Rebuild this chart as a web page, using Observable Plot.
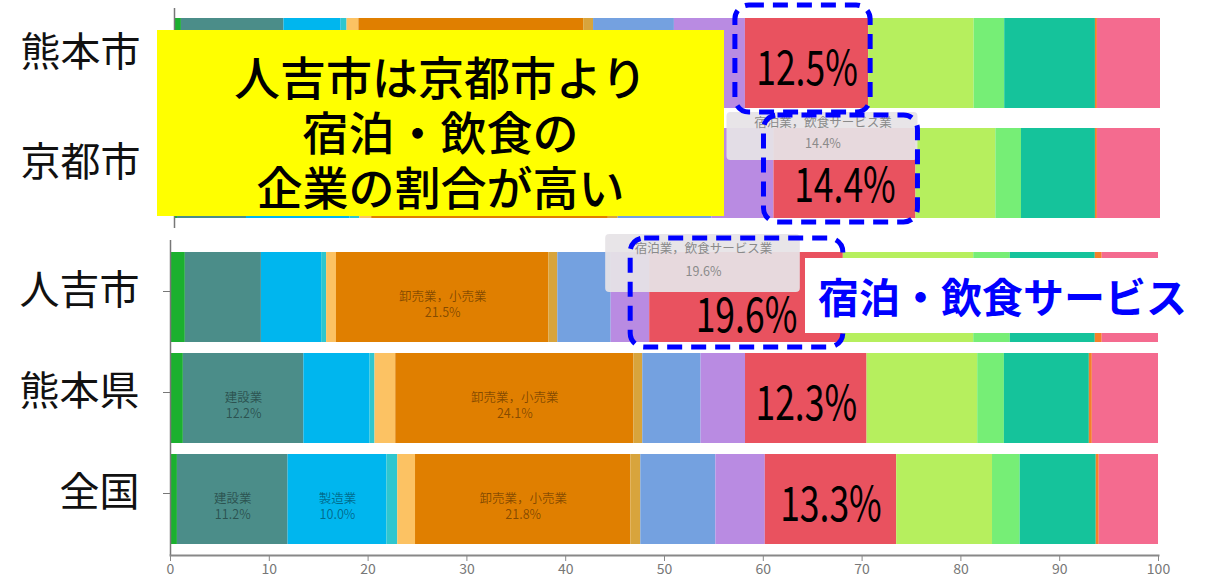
<!DOCTYPE html>
<html><head><meta charset="utf-8">
<script src="https://cdn.jsdelivr.net/npm/d3@7"></script>
<script src="https://cdn.jsdelivr.net/npm/@observablehq/plot@0.6"></script>
<style>
body{margin:0;background:#fff;}
#wrap{position:relative;width:1207px;height:583px;overflow:hidden;font-family:"Noto Sans CJK JP","Noto Sans",sans-serif;}
#top{position:absolute;left:0;top:0;}
#bottom{position:absolute;left:0;top:232px;}
#callout{position:absolute;left:157px;top:30px;width:567px;height:186px;background:#ffff00;color:#000;
  font-size:46px;line-height:55px;text-align:center;padding-top:18px;box-sizing:border-box;font-weight:500;}
#tag{position:absolute;left:805px;top:258px;width:395px;height:75px;background:#fff;color:#0000ff;
  font-weight:700;font-size:41px;line-height:75px;text-align:center;}
</style></head>
<body>
<div id="wrap">
  <div id="top"></div>
  <div id="bottom"></div>
  <div id="callout">人吉市は京都市より<br>宿泊・飲食の<br>企業の割合が高い</div>
  <div id="tag">宿泊・飲食サービス</div>
</div>
<script>
const industries = ["農林漁業","建設業","製造業","情報通信業","運輸業，郵便業","卸売業，小売業","金融業，保険業","不動産業，物品賃貸業","学術研究，専門・技術サービス業","宿泊業，飲食サービス業","生活関連サービス業，娯楽業","教育，学習支援業","医療，福祉","複合サービス事業","サービス業（他に分類されないもの）"];
const colors = ["#1bb02f","#4b8d89","#00b6ee","#2ec6cf","#fcc263","#e07f00","#d8a43c","#74a1e0","#b98be2","#e9525f","#b6ef5e","#76ee76","#15c39b","#f5802a","#f46b8f"];

const topRegions = ["熊本市","京都市"];
const bottomRegions = ["人吉市","熊本県","全国"];

const kumamotoCity  = [0.7,10.4,5.8,0.6,1.2,22.8,1.0,8.2,7.2,12.5,10.7,3.1,9.2,0.2,6.4];
const kyotoCity     = [0.3,7.0,10.5,1.0,1.2,24.0,1.0,9.5,6.3,14.4,8.1,2.6,7.5,0.2,6.4];
const hitoyoshiCity = [1.5,7.7,6.1,0.5,1.0,21.5,0.9,5.4,3.9,19.6,13.2,3.7,8.6,0.7,5.7];
const kumamotoPref  = [1.3,12.2,6.7,0.5,2.1,24.1,0.9,5.9,4.5,12.3,11.2,2.7,8.6,0.3,6.7];
const japan         = [0.7,11.2,10.0,1.1,1.8,21.8,1.0,7.6,5.0,13.3,9.7,2.8,7.7,0.3,6.0];

const xTicks = [0,10,20,30,40,50,60,70,80,90,100];
const highlight = "宿泊業，飲食サービス業";
const boxed = ["熊本市","京都市","人吉市"];
const tipped = ["京都市","人吉市"];
const labeled = ["建設業","製造業","卸売業，小売業"];

function rows(region, values) {
  return industries.map((industry, i) => ({region, industry, value: values[i]}));
}
const topTable = [...rows("熊本市", kumamotoCity), ...rows("京都市", kyotoCity)];
const bottomTable = [...rows("人吉市", hitoyoshiCity), ...rows("熊本県", kumamotoPref), ...rows("全国", japan)];

const isHl = d => d.industry === highlight;

function layers(table, tip, box, withXAxis, labelPad, labelDy, withSmall) {
  const s = o => Plot.stackX({x: "value", y: "region", ...o});
  const marks = [
    Plot.barX(table, {x: "value", y: "region", fill: "industry"})
  ];
  if (withSmall) marks.push(
    Plot.text(table, Plot.filter(d => labeled.includes(d.industry) && d.value >= 10,
      s({text: d => `${d.industry}\n${d.value.toFixed(1)}%`, fill: "rgba(0,0,0,0.42)", fontSize: 12.5, lineHeight: 1.3, dy: 6}))));
  marks.push(
    Plot.barX(table, Plot.filter(d => isHl(d) && tipped.includes(d.region),
      s({fill: "#e6e3e6", fillOpacity: 0.93, rx: 4, ...tip.rect}))),
    Plot.text(table, Plot.filter(d => isHl(d) && tipped.includes(d.region),
      s({text: d => `${d.industry}\n${d.value.toFixed(1)}%`, fill: "#8a8a8a", fontSize: 12.5, lineHeight: tip.lh, dx: tip.dx, dy: tip.dy}))),
    Plot.text(table, Plot.filter(d => isHl(d) && !tipped.includes(d.region),
      s({text: d => d.value.toFixed(1) + "%", fill: "#000", fontSize: 48, dy: 6}))),
    Plot.text(table, Plot.filter(d => isHl(d) && tipped.includes(d.region),
      s({text: d => d.value.toFixed(1) + "%", fill: "#000", fontSize: 48, dy: tip.bigDy}))),
    Plot.barX(table, Plot.filter(d => isHl(d) && boxed.includes(d.region),
      s({fill: "none", stroke: "#0000ff", strokeWidth: 5, strokeDasharray: "15,9", rx: 14, ...box}))),
    Plot.ruleX([0], {stroke: "#777", strokeWidth: 1.5}),
    Plot.axisY({tickSize: 7, tickPadding: labelPad, fontSize: 40, fill: "#111", stroke: "#777", dy: labelDy})
  );
  if (withXAxis) {
    marks.push(Plot.frame({anchor: "bottom", stroke: "#888", strokeWidth: 2}));
    marks.push(Plot.axisX(xTicks, {tickSize: 6, tickPadding: 3, fontSize: 14, fill: "#777", stroke: "#888"}));
  }
  return marks;
}

const common = {
  width: 1207,
  color: {domain: industries, range: colors},
  style: {fontFamily: '"Noto Sans CJK JP","Noto Sans",sans-serif', background: "transparent", overflow: "visible"}
};

const topPlot = Plot.plot({
  ...common,
  height: 232,
  marginTop: 8, marginBottom: 4, marginLeft: 174, marginRight: 47,
  x: {domain: [0, 100], axis: null},
  y: {domain: topRegions, paddingInner: 0.182, paddingOuter: 0.091, label: null},
  marks: layers(topTable,
    {rect: {insetLeft: -47, insetRight: -2, insetTop: -16, insetBottom: 58}, dx: -22, dy: -43, lh: 1.7, bigDy: 13},
    {insetLeft: -10, insetRight: -2, insetTop: -13, insetBottom: -4}, false, 27, -10, false)
});

const bottomPlot = Plot.plot({
  ...common,
  height: 351,
  marginTop: 8, marginBottom: 28, marginLeft: 170, marginRight: 49,
  x: {domain: [0, 100], label: null},
  y: {domain: bottomRegions, paddingInner: 0.113, paddingOuter: 0.108, label: null},
  marks: layers(bottomTable,
    {rect: {insetLeft: -44, insetRight: 43, insetTop: -18, insetBottom: 50}, dx: -43, dy: -40, lh: 1.85, bigDy: 19},
    {insetLeft: -19, insetRight: 0, insetTop: -14, insetBottom: -5}, true, 24, -6, true)
});

document.getElementById("top").appendChild(topPlot);
document.getElementById("bottom").appendChild(bottomPlot);

d3.selectAll('g[font-size="48"] text').each(function() {
  const w = this.getComputedTextLength();
  this.setAttribute("textLength", (w * 0.74).toFixed(1));
  this.setAttribute("lengthAdjust", "spacingAndGlyphs");
});
</script>
</body></html>
